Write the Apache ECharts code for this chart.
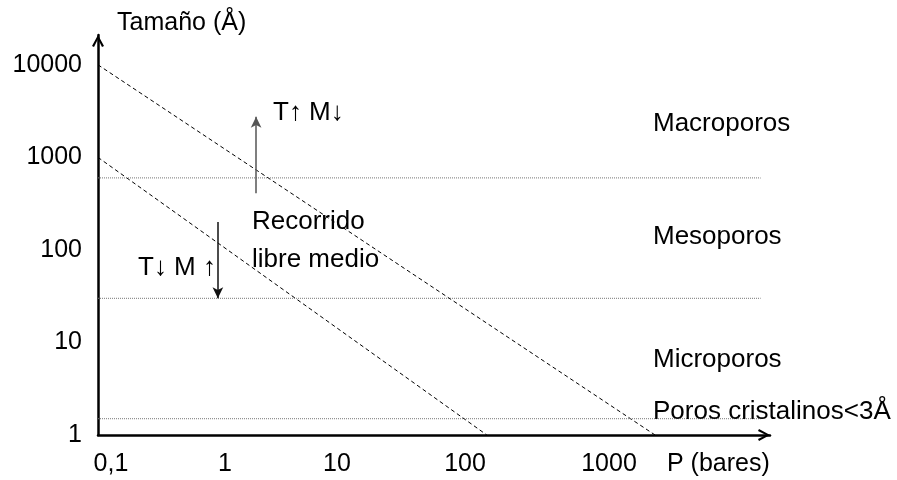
<!DOCTYPE html>
<html>
<head>
<meta charset="utf-8">
<script src="https://cdn.jsdelivr.net/npm/echarts@6/dist/echarts.min.js"></script>
<style>
  html, body { margin: 0; background: #fff; }
  #chart { width: 897px; height: 480px; }
</style>
</head>
<body>
<div id="chart"></div>
<script>
// ---- data ----
const xTicks = [0.1, 1, 10, 100, 1000];
const xTickText = ['0,1', '1', '10', '100', '1000'];
const yTicks = [1, 10, 100, 1000, 10000];
const freePathHigh = [[0.1, 10000], [2860, 1]];
const freePathLow = [[0.1, 1000], [129, 1]];
const boundaries = [600, 30, 1.5];          // Macro/Meso, Meso/Micro, cristalinos
const boundarySpan = [0.1, 20000];
const arrowUp = [[1.84, 410], [1.84, 2750]];
const arrowDown = [[0.91, 200], [0.91, 30]];

const FONT = '"Liberation Sans", Arial, sans-serif';
// label nudges (px) so the tick texts sit where the drawing put them
const xShift = [13, 2, -11, -8, 11];
const chevron = 'path://M0,11 L6,0 L12,11 L10,12 L6,4 L2,12 Z';

const chart = echarts.init(document.getElementById('chart'));

const rich = {};
xShift.forEach((s, i) => {
    rich['s' + i] = {
        fontSize: 25, fontFamily: FONT, color: '#000',
        padding: s >= 0 ? [0, 0, 0, 2 * s] : [0, -2 * s, 0, 0]
    };
});

function txt(text, x, y, size) {
    return {
        type: 'text', x: x, y: y, silent: true, z: 100,
        style: { text: text, fontSize: size || 26, fontFamily: FONT, fill: '#000', align: 'left', verticalAlign: 'middle' }
    };
}

const series = [
    {
        type: 'line', data: freePathHigh, showSymbol: false, symbol: 'none',
        lineStyle: { color: '#000', width: 1, type: [4, 3] }
    },
    {
        type: 'line', data: freePathLow, showSymbol: false, symbol: 'none',
        lineStyle: { color: '#000', width: 1, type: [4, 3] }
    }
];
boundaries.forEach(b => {
    series.push({
        type: 'line', data: [[boundarySpan[0], b], [boundarySpan[1], b]],
        showSymbol: false, symbol: 'none',
        lineStyle: { color: '#777', width: 1, type: [1, 1] }
    });
});
series.push({
    type: 'line', data: [], showSymbol: false,
    markLine: {
        silent: true, animation: false,
        symbol: ['none', 'arrow'], symbolSize: [8, 11],
        label: { show: false },
        data: [
            [{ coord: arrowUp[0], lineStyle: { color: '#555', width: 1.5, type: 'solid' } }, { coord: arrowUp[1] }],
            [{ coord: arrowDown[0], lineStyle: { color: '#111', width: 1.5, type: 'solid' } }, { coord: arrowDown[1] }]
        ]
    }
});

const option = {
    animation: false,
    backgroundColor: '#fff',
    grid: { left: 98, right: 127, top: 35, bottom: 45 },
    xAxis: {
        type: 'log', logBase: 10, min: 0.1, max: 23770,
        axisLine: {
            lineStyle: { color: '#000', width: 2.5 },
            symbol: ['none', chevron], symbolSize: [13, 12], symbolOffset: [0, -6]
        },
        axisTick: { show: false },
        minorTick: { show: false },
        splitLine: { show: false },
        axisLabel: {
            customValues: xTicks,
            margin: 17,
            fontSize: 25, fontFamily: FONT, color: '#000',
            formatter: v => {
                const i = Math.round(Math.log10(v)) + 1;
                return '{s' + i + '|' + xTickText[i] + '}';
            },
            rich: rich
        }
    },
    yAxis: {
        type: 'log', logBase: 10, min: 1, max: 21000,
        axisLine: {
            show: true,
            lineStyle: { color: '#000', width: 2.5 },
            symbol: ['none', chevron], symbolSize: [13, 12], symbolOffset: [0, -6]
        },
        axisTick: { show: false },
        minorTick: { show: false },
        splitLine: { show: false },
        axisLabel: {
            customValues: yTicks,
            margin: 16,
            fontSize: 25, fontFamily: FONT, color: '#000',
            formatter: v => String(Math.round(v))
        }
    },
    series: series,
    graphic: [
        txt('Tamaño (Å)', 117, 23, 25),
        txt('T\u2191 M\u2193', 273, 113),
        txt('T\u2193 M \u2191', 138, 268),
        txt('Recorrido', 252, 222),
        txt('libre medio', 252, 260),
        txt('Macroporos', 653, 124),
        txt('Mesoporos', 653, 237),
        txt('Microporos', 653, 360),
        txt('Poros cristalinos<3Å', 653, 412),
        txt('P (bares)', 667, 464, 25)
    ]
};

chart.setOption(option);
</script>
</body>
</html>
